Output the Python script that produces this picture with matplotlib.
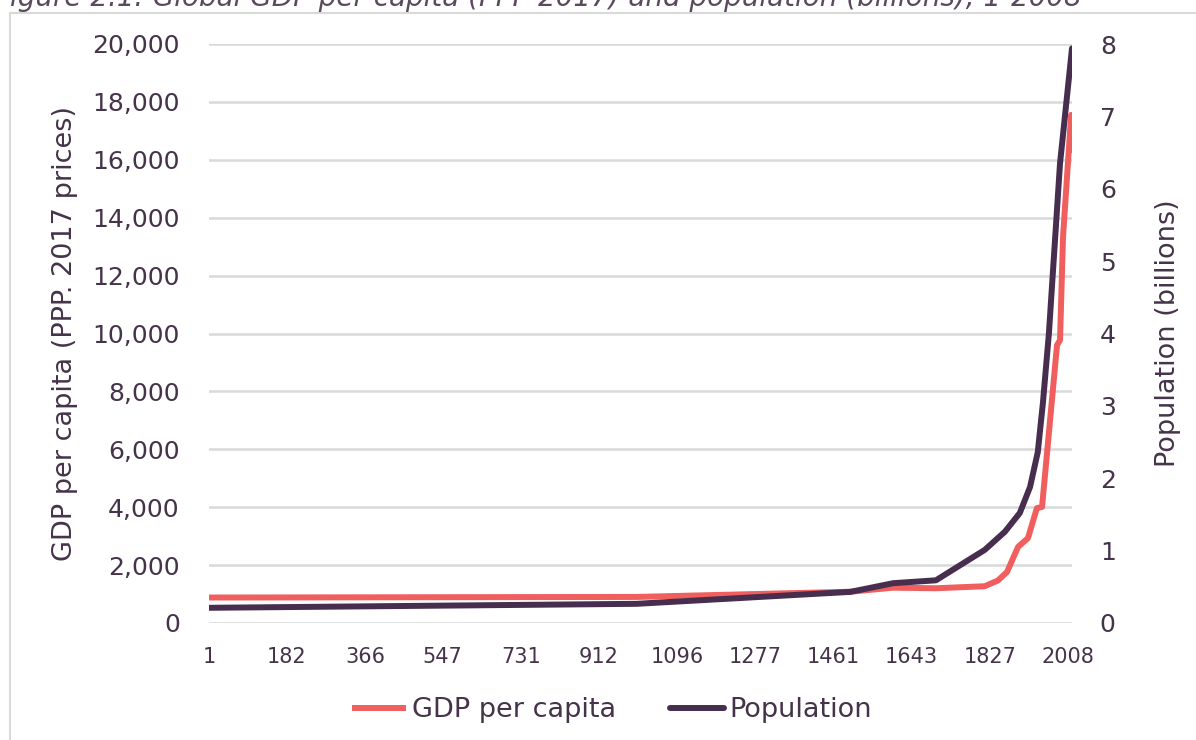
import matplotlib.pyplot as plt
from matplotlib.patches import Rectangle

# values
gdp_years = [1, 1000, 1500, 1600, 1700, 1814, 1845, 1866, 1892, 1915, 1936, 1948,
             1983, 1990, 1997, 2016, 2018]
gdp = [880, 900, 1080, 1220, 1200, 1270, 1470, 1760, 2630, 2930, 3970, 4010,
       9600, 9770, 13330, 17550, 16240]

pop_years = [1, 1000, 1500, 1600, 1700, 1814, 1861, 1896, 1920, 1938, 1950, 1964,
             1990, 2018]
pop = [0.21, 0.265, 0.43, 0.55, 0.59, 1.01, 1.26, 1.52, 1.88, 2.36, 3.04, 4.0,
       6.35, 7.94]

xticks = [1, 182, 366, 547, 731, 912, 1096, 1277, 1461, 1643, 1827, 2008]
left_ticks = list(range(0, 20001, 2000))
right_ticks = list(range(0, 9))

red = '#F05E5E'
dark = '#472D4E'
txt = '#45334A'
grid = '#D9D9D9'

plt.rcParams['font.family'] = ['DejaVu Sans']

fig = plt.figure(figsize=(11.96, 7.4), dpi=100)
ax = fig.add_axes([209 / 1196, 1 - 623 / 740, (1072 - 209) / 1196, (623 - 44) / 740])
ax2 = ax.twinx()

# chart frame and clipped title
fig.patches.append(Rectangle((10 / 1196, -0.1), 1.2, 1 - 13 / 740 + 0.1,
                             transform=fig.transFigure, fill=False,
                             edgecolor='#D9D9D9', lw=1.5))
fig.text(-6 / 1196, 1 - 6 / 740,
         'Figure 2.1: Global GDP per capita (PPP 2017) and population (billions), 1-2008',
         fontsize=20, style='italic', color='#5A4A5E', va='baseline', ha='left')

l1, = ax.plot(gdp_years, gdp, color=red, lw=4.3, solid_capstyle='butt',
              label='GDP per capita', zorder=3)
l2, = ax2.plot(pop_years, pop, color=dark, lw=4.3, solid_capstyle='round',
               label='Population', zorder=3)

ax.set_xlim(1, 2018)
ax.set_ylim(0, 20000)
ax2.set_ylim(0, 8)
ax.set_xticks(xticks)
ax.set_xticklabels([str(t) for t in xticks])
ax.set_yticks(left_ticks)
ax.set_yticklabels([f'{v:,}' for v in left_ticks])
ax2.set_yticks(right_ticks)

ax.yaxis.grid(True, color=grid, lw=1.8)
ax.set_axisbelow(True)
for a in (ax, ax2):
    for s in a.spines.values():
        s.set_visible(False)
ax.tick_params(axis='both', length=0, colors=txt)
ax.tick_params(axis='y', pad=21, labelsize=18)
ax.tick_params(axis='x', pad=17, labelsize=15)
ax2.tick_params(axis='y', length=0, colors=txt, labelsize=18, pad=20)

ax.set_ylabel('GDP per capita (PPP. 2017 prices)', fontsize=19.5, color=txt, labelpad=10)
ax2.set_ylabel('Population (billions)', fontsize=19.5, color=txt, labelpad=28)

fig.legend([l1, l2], ['GDP per capita', 'Population'], loc='center',
           bbox_to_anchor=(612 / 1196, 1 - 710 / 740), ncol=2, frameon=False,
           fontsize=19.5, labelcolor=txt, handlelength=2.0, handletextpad=0.2,
           columnspacing=2.0)

fig.savefig('out.png', dpi=100)
